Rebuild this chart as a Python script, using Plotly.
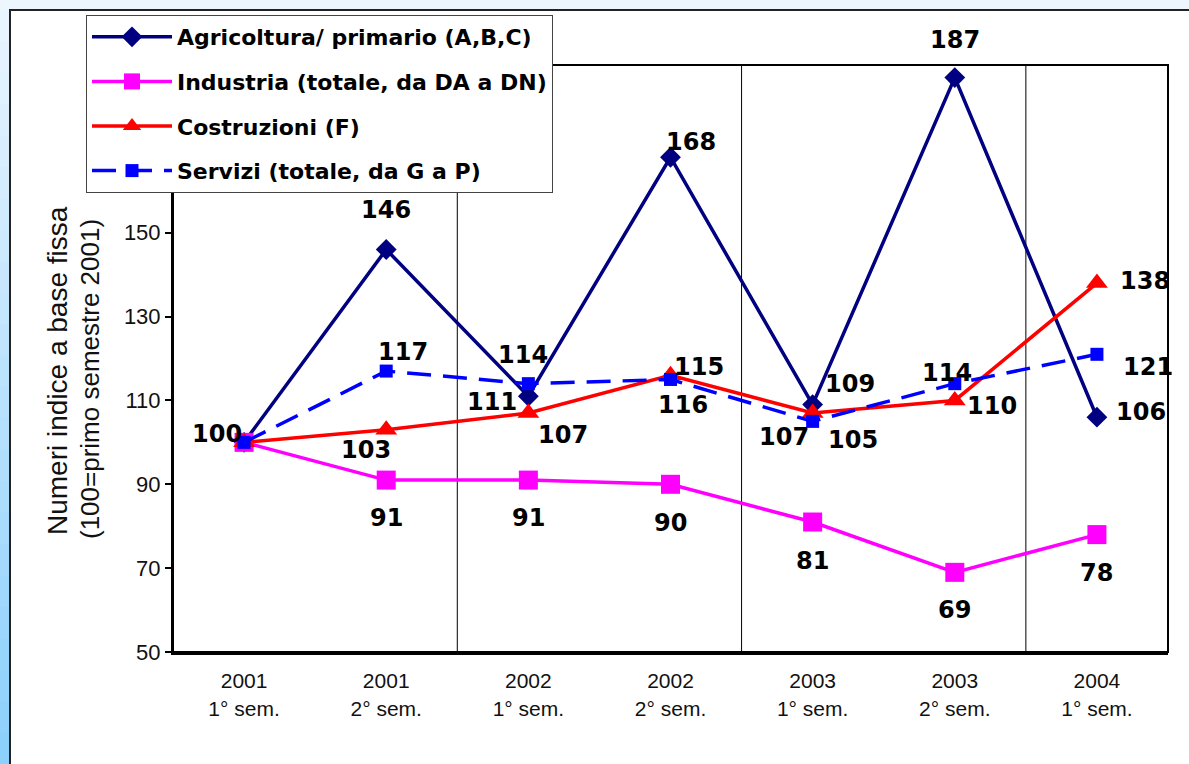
import plotly.graph_objects as go

# ---------------- data ----------------
cat_years = ["2001", "2001", "2002", "2002", "2003", "2003", "2004"]
cat_sems = ["1° sem.", "2° sem.", "1° sem.", "2° sem.", "1° sem.", "2° sem.", "1° sem."]

agricoltura = [100, 146, 111, 168, 109, 187, 106]
industria = [100, 91, 91, 90, 81, 69, 78]
costruzioni = [100, 103, 107, 116, 107, 110, 138]
servizi = [100, 117, 114, 115, 105, 114, 121]

series_names = [
    "Agricoltura/ primario (A,B,C)",
    "Industria (totale, da DA a DN)",
    "Costruzioni (F)",
    "Servizi (totale, da G a P)",
]

y_tick_values = [50, 70, 90, 110, 130, 150, 170, 190]

# ---------------- layout helpers (pixels -> paper) ----------------
W, H = 1189, 764
PX0, PX1, PY0, PY1 = 173, 1168, 65, 652  # plot area in pixels


def px(x):
    return (x - PX0) / (PX1 - PX0)


def py(y):
    return (PY1 - y) / (PY1 - PY0)


xs = list(range(len(cat_years)))
ticktext = [f"{a}<br>{b}" for a, b in zip(cat_years, cat_sems)]

# styles
colors = ["#000080", "#FF00FF", "#FF0000", "#0000FF"]
symbols = ["diamond", "square", "triangle-up", "square"]
msizes = [16, 19, 19, 13]
dashes = ["solid", "solid", "solid", "24px,12px"]

# label offsets (dx, dy) in pixels, None = no label
label_offsets = [
    [(-27, 8), (0, 39), (-36, -6), (20, 15), (37, 21), (0, 38), (44, 5)],
    [None, (0, -38), (0, -38), (0, -39), (0, -39), (0, -38), (0, -38)],
    [None, (-20, -20), (35, -22), (12, -30), (-29, -24), (37, -6), (48, 2)],
    [None, (17, 19), (-5, 29), (28, 12), (40, -19), (-8, 11), (51, -13)],
]

all_series = [agricoltura, industria, costruzioni, servizi]

fig = go.Figure()
for i, (name, vals) in enumerate(zip(series_names, all_series)):
    fig.add_trace(go.Scatter(
        x=xs, y=vals, name=name, mode="lines+markers",
        legendgroup=f"g{i}",
        line=dict(color=colors[i], width=3.5, dash=dashes[i]),
        marker=dict(symbol=symbols[i], size=msizes[i], color=colors[i]),
        cliponaxis=False,
    ))

annotations = []
label_font = dict(family="Verdana, DejaVu Sans", size=24, color="black", weight="bold")
for vals, offs in zip(all_series, label_offsets):
    for xi, (v, o) in enumerate(zip(vals, offs)):
        if o is None:
            continue
        annotations.append(dict(
            x=xi, y=v, xref="x", yref="y", text=str(v), showarrow=False,
            xshift=o[0], yshift=o[1], font=label_font,
        ))

# y-axis title (two lines)
annotations.append(dict(
    x=px(57), y=py(371), xref="paper", yref="paper", text="Numeri indice a base fissa",
    textangle=-90, showarrow=False, xanchor="center", yanchor="middle",
    font=dict(family="Liberation Sans, Arial", size=28, color="#111"),
))
annotations.append(dict(
    x=px(90), y=py(379), xref="paper", yref="paper", text="(100=primo semestre 2001)",
    textangle=-90, showarrow=False, xanchor="center", yanchor="middle",
    font=dict(family="Liberation Sans, Arial", size=26, color="#111"),
))

shapes = []
# white card with black frame
shapes.append(dict(type="rect", xref="paper", yref="paper",
                   x0=px(10), x1=px(W + 20), y0=py(10), y1=py(H + 20),
                   fillcolor="white", line=dict(color="#222", width=2), layer="below"))
# left gradient strip
n_bands = 24
top_rgb = (232, 244, 255)
bot_rgb = (140, 208, 252)
for k in range(n_bands):
    t = k / (n_bands - 1)
    c = tuple(int(round(a + (b - a) * t)) for a, b in zip(top_rgb, bot_rgb))
    y0 = 10 + (H - 10) * k / n_bands
    y1 = 10 + (H - 10) * (k + 1) / n_bands + 1
    shapes.append(dict(type="rect", xref="paper", yref="paper",
                       x0=px(0), x1=px(9), y0=py(y0), y1=py(y1),
                       fillcolor="rgb(%d,%d,%d)" % c, line=dict(width=0), layer="below"))
# year separators
for xv in [1.5, 3.5, 5.5]:
    shapes.append(dict(type="line", xref="x", yref="paper", x0=xv, x1=xv, y0=0, y1=1,
                       line=dict(color="black", width=1), layer="below"))
# plot frame
shapes.append(dict(type="rect", xref="paper", yref="paper", x0=0, x1=1, y0=0, y1=1,
                   line=dict(color="black", width=2), layer="below"))

fig.update_layout(
    width=W, height=H,
    margin=dict(l=PX0, r=W - PX1, t=PY0, b=H - PY1),
    paper_bgcolor="#eef6fd",
    plot_bgcolor="white",
    showlegend=True,
    legend=dict(
        x=px(86), y=py(15), xanchor="left", yanchor="top",
        bgcolor="white", bordercolor="#444", borderwidth=1,
        font=dict(family="Verdana, DejaVu Sans", size=22, color="black", weight="bold"),
        itemwidth=80, tracegroupgap=13,
    ),
    xaxis=dict(
        range=[-0.5, 6.5], tickmode="array", tickvals=xs, ticktext=ticktext,
        showgrid=False, zeroline=False, showline=True, linecolor="black", linewidth=3,
        ticks="", tickfont=dict(family="Liberation Sans, Arial", size=21, color="#111"),
        ticklabelstandoff=8,
    ),
    yaxis=dict(
        range=[50, 190], tickmode="array", tickvals=y_tick_values,
        showgrid=False, zeroline=False, showline=True, linecolor="black", linewidth=2,
        ticks="outside", ticklen=6, tickwidth=1.5, tickcolor="black",
        tickfont=dict(family="Liberation Sans, Arial", size=22, color="#111"),
    ),
    annotations=annotations,
    shapes=shapes,
)

fig.write_html("out.html", post_script="document.body.style.margin='0';",
               config={"displayModeBar": False})
